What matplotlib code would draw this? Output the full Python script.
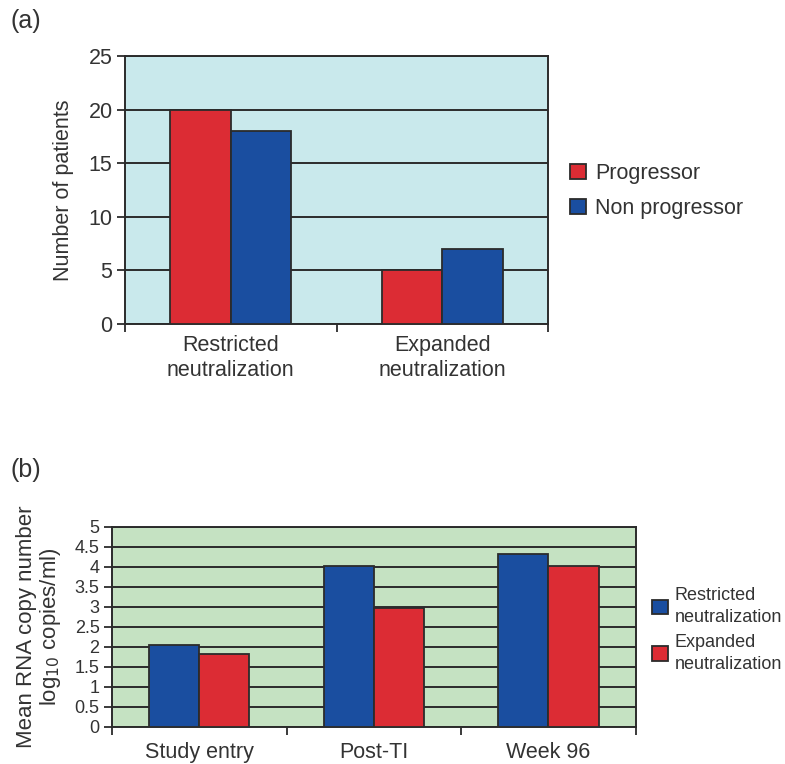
import matplotlib
matplotlib.use("Agg")
import matplotlib.pyplot as plt
import numpy as np

plt.rcParams['font.family'] = ['Liberation Sans', 'DejaVu Sans']

# Panel (a) data
cats_a = ["Restricted\nneutralization", "Expanded\nneutralization"]
progressor = [20, 5]
non_progressor = [18, 7]

# Panel (b) data
cats_b = ["Study entry", "Post-TI", "Week 96"]
restricted = [2.04, 4.03, 4.32]
expanded = [1.83, 2.98, 4.03]

RED = "#DC2C34"
BLUE = "#1A4EA0"
EDGE = "#2b2b2b"
TXT = "#333333"

fig = plt.figure(figsize=(7.85, 7.64), dpi=100)

def style_axes(ax, n, ymax, ystep, bg, fs_y, fs_x, labels, xpad):
    ax.set_facecolor(bg)
    ax.set_xlim(0, n)
    ax.set_ylim(0, ymax)
    yt = np.arange(0, ymax + ystep / 2, ystep)
    ax.set_yticks(yt)
    ax.set_yticklabels([f"{v:g}" for v in yt], fontsize=fs_y, color=TXT)
    ax.yaxis.grid(True, color=EDGE, linewidth=1.4)
    ax.set_axisbelow(True)
    ax.set_xticks(np.arange(0, n + 1))
    ax.set_xticklabels([])
    ax.set_xticks(np.arange(n) + 0.5, minor=True)
    ax.set_xticklabels(labels, minor=True, fontsize=fs_x, color=TXT, linespacing=1.25)
    ax.tick_params(axis='x', which='minor', length=0, pad=xpad)
    ax.tick_params(axis='x', which='major', length=6, width=1.3, color=EDGE, direction='out')
    ax.tick_params(axis='y', length=6, width=1.3, color=EDGE, direction='out', pad=3)
    for s in ax.spines.values():
        s.set_color(EDGE)
        s.set_linewidth(1.4)

# ---- Panel (a)
axa = fig.add_axes([125/785, 1 - 324/764, 423/785, 268/764])
xa = np.arange(len(cats_a)) + 0.5
w = 0.285
axa.bar(xa - w/2, progressor, w, color=RED, edgecolor=EDGE, linewidth=1.3, label="Progressor", zorder=3)
axa.bar(xa + w/2, non_progressor, w, color=BLUE, edgecolor=EDGE, linewidth=1.3, label="Non progressor", zorder=3)
style_axes(axa, 2, 25, 5, "#C9E9EC", 15.5, 15.5, cats_a, 8)
axa.set_ylabel("Number of patients", fontsize=15.5, color=TXT, labelpad=10)
axa.legend(loc="center left", bbox_to_anchor=(561/785, 1 - 191/764), bbox_transform=fig.transFigure,
           frameon=False, fontsize=15.5, handlelength=0.75, handleheight=0.75, handletextpad=0.45,
           labelspacing=0.65, borderaxespad=0, labelcolor=TXT)
fig.text(11/785, 1 - 21/764, "(a)", fontsize=18, color=TXT, va="center", ha="left")

# ---- Panel (b)
axb = fig.add_axes([112/785, 1 - 726.7/764, 523.7/785, 200/764])
xb = np.arange(len(cats_b)) + 0.5
wb = 0.287
axb.bar(xb - wb/2, restricted, wb, color=BLUE, edgecolor=EDGE, linewidth=1.3,
        label="Restricted\nneutralization", zorder=3)
axb.bar(xb + wb/2, expanded, wb, color=RED, edgecolor=EDGE, linewidth=1.3,
        label="Expanded\nneutralization", zorder=3)
style_axes(axb, 3, 5, 0.5, "#C5E2C2", 13, 15.5, cats_b, 11)
axb.set_ylabel("Mean RNA copy number\nlog$_{10}$ copies/ml)", fontsize=16, color=TXT,
               labelpad=8, linespacing=1.1)
legb = axb.legend(loc="center left", bbox_to_anchor=(645/785, 1 - 630/764), bbox_transform=fig.transFigure,
                  frameon=False, fontsize=13, handlelength=0.85, handleheight=0.85, handletextpad=0.4,
                  labelspacing=0.45, borderaxespad=0, labelcolor=TXT)
for t in legb.get_texts():
    t.set_linespacing(1.35)
fig.text(11/785, 1 - 470/764, "(b)", fontsize=18, color=TXT, va="center", ha="left")

fig.savefig("out.png", dpi=100)
